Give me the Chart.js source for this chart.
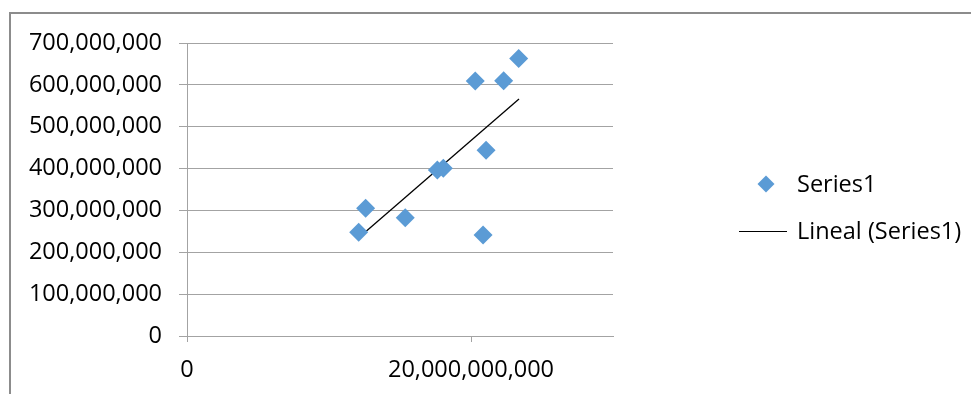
<!DOCTYPE html>
<html>
<head>
<meta charset="utf-8">
<script src="https://cdn.jsdelivr.net/npm/chart.js@4/dist/chart.umd.min.js"></script>
<style>
  html, body { margin: 0; padding: 0; background: #fff; }
  #wrap { position: relative; width: 971px; height: 394px; overflow: hidden; }
  #frame {
    position: absolute; left: 9px; top: 12px; width: 980px; height: 400px;
    border-left: 2px solid #8c8c8c; border-top: 2px solid #8c8c8c;
  }
  canvas { position: absolute; left: 0; top: 0; }
  .legend { position: absolute; font-family: "Open Sans", "Liberation Sans", sans-serif; font-size: 23.5px; color: #000; line-height: 28px; }
  .legend .item { position: absolute; white-space: nowrap; }
  .legend .diamond {
    position: absolute; width: 12px; height: 12px; background: #5b9bd5; transform: rotate(45deg);
  }
  .legend .line { position: absolute; height: 1px; background: #000; }
</style>
</head>
<body>
<div id="wrap">
  <div id="frame"></div>
  <canvas id="chart" width="971" height="394"></canvas>
  <div class="legend" id="legend"></div>
</div>
<script>
// scatter values (x, y)
const xValues = [12.09e9, 12.58e9, 15.37e9, 17.63e9, 18.05e9, 20.30e9, 20.85e9, 21.06e9, 22.30e9, 23.36e9];
const yValues = [247.7e6, 305e6, 282.6e6, 396.6e6, 400.6e6, 609e6, 241e6, 443.6e6, 610e6, 663e6];

// linear trend line end points
const trendX = [12.09e9, 23.38e9];
const trendY = [234.8e6, 566e6];

const seriesLabels = ['Series1', 'Lineal (Series1)'];

const xTicks = [0, 20e9];
const yTicks = [0, 100e6, 200e6, 300e6, 400e6, 500e6, 600e6, 700e6];

const markerColor = '#5b9bd5';
const gridColor = '#a3a3a3';
const fontSpec = { family: '"Open Sans", "Liberation Sans", sans-serif', size: 23.5 };

function fmt(v) {
    return Number(v).toLocaleString('en-US');
}

const ctx = document.getElementById('chart').getContext('2d');
const chart = new Chart(ctx, {
    type: 'scatter',
    data: {
        datasets: [
            {
                label: seriesLabels[0],
                data: xValues.map((x, i) => ({ x: x, y: yValues[i] })),
                pointStyle: 'rectRot',
                pointRadius: 9.5,
                backgroundColor: markerColor,
                borderColor: markerColor,
                borderWidth: 0
            },
            {
                label: seriesLabels[1],
                type: 'line',
                data: trendX.map((x, i) => ({ x: x, y: trendY[i] })),
                showLine: true,
                borderColor: '#000',
                borderWidth: 1.3,
                pointRadius: 0,
                fill: false
            }
        ]
    },
    options: {
        responsive: false,
        animation: false,
        layout: { padding: { left: 0, top: 43, right: 358, bottom: 0 } },
        plugins: {
            legend: { display: false },
            tooltip: { enabled: false }
        },
        scales: {
            x: {
                type: 'linear',
                min: 0,
                max: 30e9,
                afterBuildTicks: function (scale) {
                    scale.ticks = xTicks.map(v => ({ value: v }));
                },
                afterFit: function (scale) { scale.height = 58; },
                ticks: {
                    color: '#000',
                    font: fontSpec,
                    padding: 14,
                    maxRotation: 0,
                    callback: function (v) { return fmt(v); }
                },
                grid: {
                    drawOnChartArea: false,
                    drawTicks: true,
                    tickLength: 6,
                    color: gridColor
                },
                border: { color: gridColor, width: 1 }
            },
            y: {
                type: 'linear',
                min: 0,
                max: 700e6,
                afterBuildTicks: function (scale) {
                    scale.ticks = yTicks.map(v => ({ value: v }));
                },
                afterFit: function (scale) { scale.width = 187; },
                ticks: {
                    color: '#000',
                    font: fontSpec,
                    padding: 17,
                    callback: function (v) { return fmt(v); }
                },
                grid: {
                    color: gridColor,
                    lineWidth: 1,
                    tickLength: 8
                },
                border: { color: gridColor, width: 1 }
            }
        }
    }
});

// legend built from the dataset labels
const legend = document.getElementById('legend');
legend.innerHTML =
    '<div class="diamond" style="left:760px;top:178px"></div>' +
    '<div class="item" style="left:797px;top:169px">' + chart.data.datasets[0].label + '</div>' +
    '<div class="line" style="left:739px;top:231px;width:48px"></div>' +
    '<div class="item" style="left:797px;top:216px">' + chart.data.datasets[1].label + '</div>';
</script>
</body>
</html>
